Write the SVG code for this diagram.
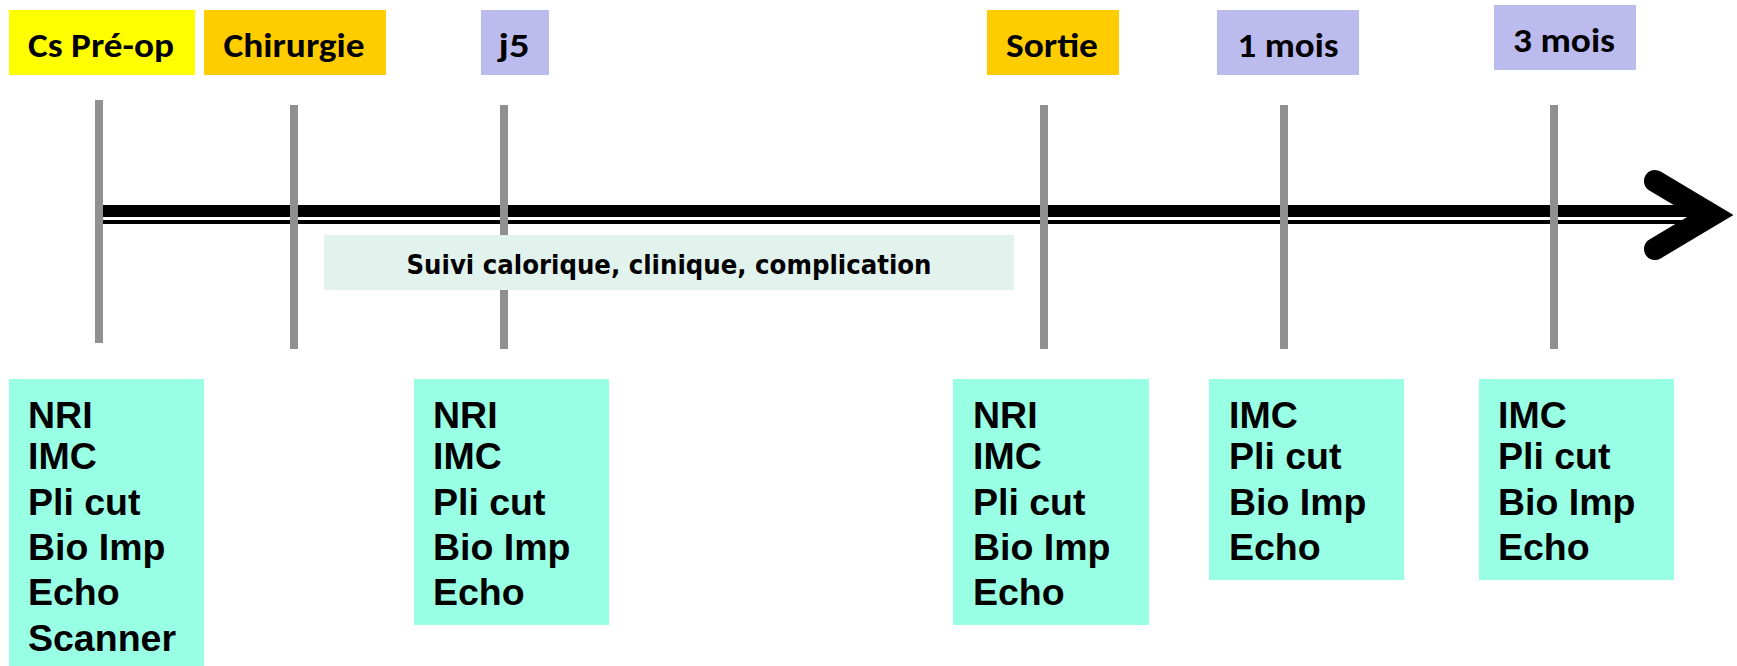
<svg xmlns="http://www.w3.org/2000/svg" width="1737" height="666" viewBox="0 0 1737 666">
  <style>
    .top { font-family: Calibri, Carlito, Lato, "Open Sans", sans-serif; font-weight: bold; font-size: 34px; fill: #000; text-anchor: middle; }
    .yellow { fill: #FFFF00; }
    .orange { fill: #FFCC00; }
    .lav { fill: #BBBBEE; }
    .tick { stroke: #909090; stroke-width: 8; fill: none; }
    .box { fill: #98FEE4; }
    .lst { font-family: "Liberation Sans", Arial, sans-serif; font-weight: bold; font-size: 37.5px; fill: #000; }
    .band { fill: #E2F3EE; }
    .bandtxt { font-family: "Comic Sans MS", "DejaVu Sans Condensed", "DejaVu Sans", sans-serif; font-weight: bold; font-size: 27px; fill: #000; text-anchor: middle; }
  </style>
  <rect width="1737" height="666" fill="#FFFFFF"/>

  <g id="connectors">
    <g id="timeline-arrow">
      <rect x="99" y="205" width="1601" height="12" fill="#000"/>
      <rect x="99" y="220" width="1601" height="4" fill="#000"/>
      <path d="M1655,181 L1712,215 L1655,249" fill="none" stroke="#000" stroke-width="22" stroke-linecap="round" stroke-linejoin="miter"/>
    </g>
    <g id="ticks">
      <line class="tick" x1="99" y1="100" x2="99" y2="343"/>
      <line class="tick" x1="294" y1="105" x2="294" y2="349"/>
      <line class="tick" x1="504" y1="105" x2="504" y2="349"/>
      <line class="tick" x1="1044" y1="105" x2="1044" y2="349"/>
      <line class="tick" x1="1284" y1="105" x2="1284" y2="349"/>
      <line class="tick" x1="1554" y1="105" x2="1554" y2="349"/>
    </g>
  </g>

  <g id="suivi">
    <rect class="band" x="324" y="235" width="690" height="55"/>
    <text class="bandtxt" x="669" y="274" textLength="525" lengthAdjust="spacingAndGlyphs">Suivi calorique, clinique, complication</text>
  </g>

  <g id="label-cs-preop">
    <rect class="yellow" x="9" y="10" width="186" height="65"/>
    <text class="top" x="101" y="57" textLength="146" lengthAdjust="spacingAndGlyphs">Cs Pré-op</text>
  </g>
  <g id="label-chirurgie">
    <rect class="orange" x="204" y="10" width="182" height="65"/>
    <text class="top" x="294" y="57" textLength="141" lengthAdjust="spacingAndGlyphs">Chirurgie</text>
  </g>
  <g id="label-j5">
    <rect class="lav" x="481" y="10" width="68" height="65"/>
    <text class="top" x="514" y="57" textLength="31" lengthAdjust="spacingAndGlyphs">j5</text>
  </g>
  <g id="label-sortie">
    <rect class="orange" x="987" y="10" width="132" height="65"/>
    <text class="top" x="1052" y="57" textLength="92" lengthAdjust="spacingAndGlyphs">Sortie</text>
  </g>
  <g id="label-1mois">
    <rect class="lav" x="1217" y="10" width="142" height="65"/>
    <text class="top" x="1288" y="57" textLength="101" lengthAdjust="spacingAndGlyphs">1 mois</text>
  </g>
  <g id="label-3mois">
    <rect class="lav" x="1494" y="5" width="142" height="65"/>
    <text class="top" x="1564" y="52" textLength="102" lengthAdjust="spacingAndGlyphs">3 mois</text>
  </g>

  <g id="box-cs-preop">
    <rect class="box" x="9" y="379" width="195" height="287"/>
    <text class="lst" x="28" y="428">NRI</text>
    <text class="lst" x="28" y="469">IMC</text>
    <text class="lst" x="28" y="515">Pli cut</text>
    <text class="lst" x="28" y="560">Bio Imp</text>
    <text class="lst" x="28" y="605">Echo</text>
    <text class="lst" x="28" y="651">Scanner</text>
  </g>
  <g id="box-j5">
    <rect class="box" x="414" y="379" width="195" height="246"/>
    <text class="lst" x="433" y="428">NRI</text>
    <text class="lst" x="433" y="469">IMC</text>
    <text class="lst" x="433" y="515">Pli cut</text>
    <text class="lst" x="433" y="560">Bio Imp</text>
    <text class="lst" x="433" y="605">Echo</text>
  </g>
  <g id="box-sortie">
    <rect class="box" x="953" y="379" width="196" height="246"/>
    <text class="lst" x="973" y="428">NRI</text>
    <text class="lst" x="973" y="469">IMC</text>
    <text class="lst" x="973" y="515">Pli cut</text>
    <text class="lst" x="973" y="560">Bio Imp</text>
    <text class="lst" x="973" y="605">Echo</text>
  </g>
  <g id="box-1mois">
    <rect class="box" x="1209" y="379" width="195" height="201"/>
    <text class="lst" x="1229" y="428">IMC</text>
    <text class="lst" x="1229" y="469">Pli cut</text>
    <text class="lst" x="1229" y="515">Bio Imp</text>
    <text class="lst" x="1229" y="560">Echo</text>
  </g>
  <g id="box-3mois">
    <rect class="box" x="1479" y="379" width="195" height="201"/>
    <text class="lst" x="1498" y="428">IMC</text>
    <text class="lst" x="1498" y="469">Pli cut</text>
    <text class="lst" x="1498" y="515">Bio Imp</text>
    <text class="lst" x="1498" y="560">Echo</text>
  </g>
</svg>
